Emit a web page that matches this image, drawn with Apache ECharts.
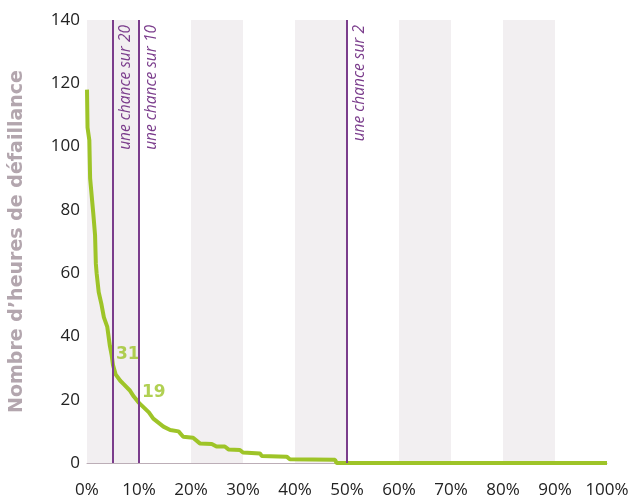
<!DOCTYPE html>
<html>
<head>
<meta charset="utf-8">
<script src="https://cdn.jsdelivr.net/npm/echarts@6/dist/echarts.min.js"></script>
<style>
  html, body { margin: 0; padding: 0; background: #ffffff; }
  #chart { width: 629px; height: 498px; }
</style>
</head>
<body>
<div id="chart"></div>
<script>
// Share of years (%) in which the outage duration is exceeded
const probabilities = [0, 0.1, 0.45, 0.6, 1.2, 1.55, 1.7, 1.85, 2.25, 2.8, 3.25, 3.9, 4.4, 4.75, 5,
  5.5, 6.4, 7, 8.2, 9, 10, 10.2, 11.9, 12.75, 14.7, 16, 17.6, 18.5, 20.4, 21.7, 24, 24.9, 26.5,
  27.2, 29.4, 30, 33.3, 33.6, 38.4, 39, 47.7, 48, 100];
// Hours of supply shortfall at each probability
const hours = [118, 106, 102, 90, 79, 72, 63, 60, 54, 50, 46, 43, 37, 34, 31,
  28, 26, 25, 23, 21, 19, 18.5, 16, 14, 11.5, 10.4, 10, 8.3, 8, 6.2, 6, 5.2, 5.2,
  4.3, 4.1, 3.3, 3, 2.2, 2, 1.2, 1, 0, 0];

// Reference probabilities highlighted with vertical lines
const markerPositions = [5, 10, 50];
const markerLabels = ['une chance sur 20', 'une chance sur 10', 'une chance sur 2'];

// Annotated values
const calloutX = [5, 10];
const calloutY = [31, 19];

const yAxisTitle = 'Nombre d\u2019heures de défaillance';

const curve = probabilities.map((p, i) => [p, hours[i]]);
const callouts = calloutX.map((p, i) => [p, calloutY[i]]);

const chart = echarts.init(document.getElementById('chart'), null, { renderer: 'canvas' });
const tickFont = '"Open Sans", sans-serif';
const boldFont = '"DejaVu Sans", sans-serif';

chart.setOption({
  animation: false,
  grid: { left: 87, right: 22, top: 20, bottom: 35, outerBoundsMode: 'none', containLabel: false },
  xAxis: {
    type: 'value',
    min: 0,
    max: 100,
    interval: 10,
    axisLine: { show: true, lineStyle: { color: '#bcaeb7', width: 1 } },
    axisTick: { show: false },
    splitLine: { show: false },
    splitArea: { show: true, areaStyle: { color: ['#f2eff1', '#ffffff'] } },
    axisLabel: {
      formatter: v => v + '%',
      color: '#222222',
      fontFamily: tickFont,
      fontSize: 17,
      margin: 19
    }
  },
  yAxis: {
    type: 'value',
    min: 0,
    max: 140,
    interval: 20,
    name: yAxisTitle,
    nameLocation: 'middle',
    nameGap: 60,
    nameTextStyle: {
      color: '#b3a6ae',
      fontFamily: boldFont,
      fontWeight: 'bold',
      fontSize: 19
    },
    axisLine: { show: false },
    axisTick: { show: false },
    splitLine: { show: true, lineStyle: { color: '#bcaeb7', width: 1 } },
    axisLabel: {
      color: '#222222',
      fontFamily: tickFont,
      fontSize: 17,
      margin: 7
    }
  },
  series: [
    {
      type: 'line',
      data: curve,
      showSymbol: false,
      lineStyle: { color: '#9ec428', width: 4 },
      z: 3,
      markLine: {
        silent: true,
        symbol: 'none',
        animation: false,
        lineStyle: { color: '#7b3d8c', width: 2, type: 'solid' },
        label: {
          show: true,
          position: 'insideEndBottom',
          formatter: p => p.name,
          color: '#7b3d8c',
          fontFamily: tickFont,
          fontStyle: 'italic',
          fontSize: 15.5,
          distance: 5
        },
        data: markerPositions.map((x, i) => ({ xAxis: x, name: markerLabels[i] }))
      }
    },
    {
      type: 'scatter',
      data: callouts,
      symbolSize: 0,
      z: 4,
      label: {
        show: true,
        position: 'right',
        distance: 3,
        offset: [0, -10],
        formatter: p => String(p.value[1]),
        color: '#9ec428',
        fontFamily: boldFont,
        fontWeight: 'bold',
        fontSize: 17
      }
    }
  ]
});
</script>
</body>
</html>
